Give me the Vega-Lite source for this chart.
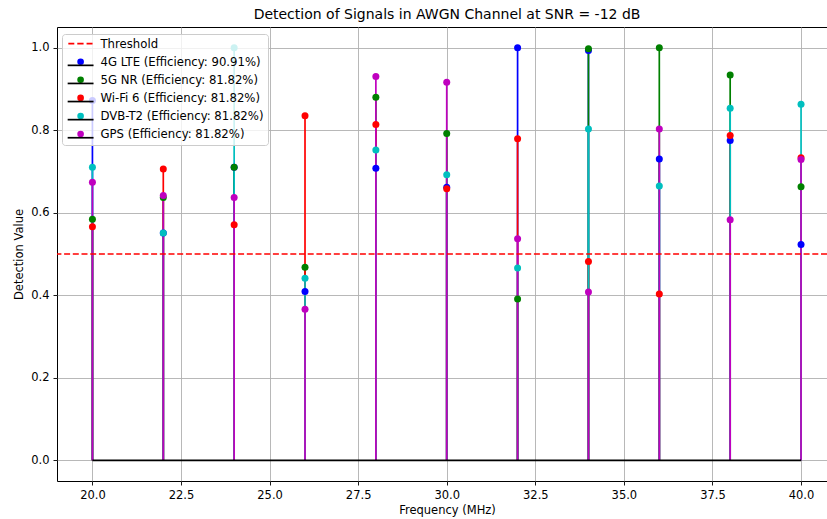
{
  "$schema": "https://vega.github.io/schema/vega-lite/v6.json",
  "width": 770,
  "height": 454,
  "autosize": {"type": "none"},
  "padding": {"left": 57, "top": 27, "right": 0, "bottom": 38},
  "background": "white",
  "title": {
    "text": "Detection of Signals in AWGN Channel at SNR = -12 dB",
    "font": "DejaVu Sans",
    "fontSize": 14,
    "fontWeight": "normal",
    "color": "black",
    "anchor": "middle",
    "frame": "group",
    "dx": 5,
    "dy": 15,
    "offset": 6,
    "baseline": "bottom"
  },
  "config": {
    "view": {"stroke": "black", "strokeWidth": 1},
    "axis": {
      "labelFont": "DejaVu Sans",
      "labelFontSize": 11.5,
      "labelColor": "black",
      "titleFont": "DejaVu Sans",
      "titleFontSize": 11.5,
      "titleFontWeight": "normal",
      "titleColor": "black",
      "tickColor": "black",
      "tickSize": 4,
      "tickWidth": 0.9,
      "domain": false,
      "gridColor": "#b0b0b0",
      "gridWidth": 0.9,
      "gridOpacity": 1,
      "labelPadding": 4
    },
    "legend": {
      "labelFont": "DejaVu Sans",
      "labelFontSize": 11.7,
      "labelColor": "black",
      "labelLimit": 400,
      "symbolSize": 44,
      "rowPadding": 5.1,
      "padding": 3.75,
      "symbolOffset": 9,
      "labelOffset": 14
    }
  },
  "datasets": {
    "signals": [
      {"freq": 20, "series": "4G LTE (Efficiency: 90.91%)", "value": 0.872},
      {"freq": 22, "series": "4G LTE (Efficiency: 90.91%)", "value": 0.551},
      {"freq": 24, "series": "4G LTE (Efficiency: 90.91%)", "value": 0.71},
      {"freq": 26, "series": "4G LTE (Efficiency: 90.91%)", "value": 0.409},
      {"freq": 28, "series": "4G LTE (Efficiency: 90.91%)", "value": 0.708},
      {"freq": 30, "series": "4G LTE (Efficiency: 90.91%)", "value": 0.662},
      {"freq": 32, "series": "4G LTE (Efficiency: 90.91%)", "value": 1.0},
      {"freq": 34, "series": "4G LTE (Efficiency: 90.91%)", "value": 0.993},
      {"freq": 36, "series": "4G LTE (Efficiency: 90.91%)", "value": 0.73},
      {"freq": 38, "series": "4G LTE (Efficiency: 90.91%)", "value": 0.775},
      {"freq": 40, "series": "4G LTE (Efficiency: 90.91%)", "value": 0.523},
      {"freq": 20, "series": "5G NR (Efficiency: 81.82%)", "value": 0.584},
      {"freq": 22, "series": "5G NR (Efficiency: 81.82%)", "value": 0.637},
      {"freq": 24, "series": "5G NR (Efficiency: 81.82%)", "value": 0.71},
      {"freq": 26, "series": "5G NR (Efficiency: 81.82%)", "value": 0.468},
      {"freq": 28, "series": "5G NR (Efficiency: 81.82%)", "value": 0.88},
      {"freq": 30, "series": "5G NR (Efficiency: 81.82%)", "value": 0.792},
      {"freq": 32, "series": "5G NR (Efficiency: 81.82%)", "value": 0.391},
      {"freq": 34, "series": "5G NR (Efficiency: 81.82%)", "value": 0.997},
      {"freq": 36, "series": "5G NR (Efficiency: 81.82%)", "value": 1.0},
      {"freq": 38, "series": "5G NR (Efficiency: 81.82%)", "value": 0.934},
      {"freq": 40, "series": "5G NR (Efficiency: 81.82%)", "value": 0.663},
      {"freq": 20, "series": "Wi-Fi 6 (Efficiency: 81.82%)", "value": 0.566},
      {"freq": 22, "series": "Wi-Fi 6 (Efficiency: 81.82%)", "value": 0.706},
      {"freq": 24, "series": "Wi-Fi 6 (Efficiency: 81.82%)", "value": 0.571},
      {"freq": 26, "series": "Wi-Fi 6 (Efficiency: 81.82%)", "value": 0.835},
      {"freq": 28, "series": "Wi-Fi 6 (Efficiency: 81.82%)", "value": 0.814},
      {"freq": 30, "series": "Wi-Fi 6 (Efficiency: 81.82%)", "value": 0.658},
      {"freq": 32, "series": "Wi-Fi 6 (Efficiency: 81.82%)", "value": 0.779},
      {"freq": 34, "series": "Wi-Fi 6 (Efficiency: 81.82%)", "value": 0.482},
      {"freq": 36, "series": "Wi-Fi 6 (Efficiency: 81.82%)", "value": 0.403},
      {"freq": 38, "series": "Wi-Fi 6 (Efficiency: 81.82%)", "value": 0.787},
      {"freq": 40, "series": "Wi-Fi 6 (Efficiency: 81.82%)", "value": 0.733},
      {"freq": 20, "series": "DVB-T2 (Efficiency: 81.82%)", "value": 0.71},
      {"freq": 22, "series": "DVB-T2 (Efficiency: 81.82%)", "value": 0.551},
      {"freq": 24, "series": "DVB-T2 (Efficiency: 81.82%)", "value": 1.0},
      {"freq": 26, "series": "DVB-T2 (Efficiency: 81.82%)", "value": 0.441},
      {"freq": 28, "series": "DVB-T2 (Efficiency: 81.82%)", "value": 0.752},
      {"freq": 30, "series": "DVB-T2 (Efficiency: 81.82%)", "value": 0.692},
      {"freq": 32, "series": "DVB-T2 (Efficiency: 81.82%)", "value": 0.466},
      {"freq": 34, "series": "DVB-T2 (Efficiency: 81.82%)", "value": 0.803},
      {"freq": 36, "series": "DVB-T2 (Efficiency: 81.82%)", "value": 0.665},
      {"freq": 38, "series": "DVB-T2 (Efficiency: 81.82%)", "value": 0.853},
      {"freq": 40, "series": "DVB-T2 (Efficiency: 81.82%)", "value": 0.863},
      {"freq": 20, "series": "GPS (Efficiency: 81.82%)", "value": 0.674},
      {"freq": 22, "series": "GPS (Efficiency: 81.82%)", "value": 0.642},
      {"freq": 24, "series": "GPS (Efficiency: 81.82%)", "value": 0.637},
      {"freq": 26, "series": "GPS (Efficiency: 81.82%)", "value": 0.366},
      {"freq": 28, "series": "GPS (Efficiency: 81.82%)", "value": 0.93},
      {"freq": 30, "series": "GPS (Efficiency: 81.82%)", "value": 0.916},
      {"freq": 32, "series": "GPS (Efficiency: 81.82%)", "value": 0.537},
      {"freq": 34, "series": "GPS (Efficiency: 81.82%)", "value": 0.408},
      {"freq": 36, "series": "GPS (Efficiency: 81.82%)", "value": 0.803},
      {"freq": 38, "series": "GPS (Efficiency: 81.82%)", "value": 0.583},
      {"freq": 40, "series": "GPS (Efficiency: 81.82%)", "value": 0.729}
    ]
  },
  "layer": [
    {
      "data": {"name": "signals"},
      "mark": {"type": "rule", "strokeWidth": 1.7},
      "encoding": {
        "x": {
          "field": "freq",
          "type": "quantitative",
          "scale": {"domain": [19, 40.733], "nice": false, "zero": false},
          "axis": {
            "values": [20, 22.5, 25, 27.5, 30, 32.5, 35, 37.5, 40],
            "format": ".1f",
            "title": "Frequency (MHz)",
            "titlePadding": 4,
            "titleX": 390,
            "grid": true
          }
        },
        "y": {
          "field": "value",
          "type": "quantitative",
          "scale": {"domain": [-0.05, 1.05], "nice": false, "zero": false},
          "axis": {
            "values": [0, 0.2, 0.4, 0.6, 0.8, 1.0],
            "format": ".1f",
            "title": "Detection Value",
            "titlePadding": 6,
            "grid": true
          }
        },
        "y2": {"datum": 0},
        "color": {
          "field": "series",
          "type": "nominal",
          "scale": {
            "domain": ["Threshold", "4G LTE (Efficiency: 90.91%)", "5G NR (Efficiency: 81.82%)", "Wi-Fi 6 (Efficiency: 81.82%)", "DVB-T2 (Efficiency: 81.82%)", "GPS (Efficiency: 81.82%)"],
            "range": ["#ff0000", "#0000ff", "#008000", "#ff0000", "#00bfbf", "#bf00bf"]
          },
          "legend": {
            "title": null,
            "orient": "none",
            "legendX": 5,
            "legendY": 7,
            "fillColor": "rgba(255,255,255,0.8)",
            "strokeColor": "#cccccc",
            "cornerRadius": 3,
            "symbolStrokeWidth": 0,
            "symbolOpacity": 1
          }
        }
      }
    },
    {
      "data": {"values": [{"threshold": 0.5}]},
      "mark": {"type": "rule", "color": "#ff0000", "strokeWidth": 1.7, "strokeDash": [6, 2.7]},
      "encoding": {
        "y": {"field": "threshold", "type": "quantitative"}
      }
    },
    {
      "data": {"name": "signals"},
      "mark": {"type": "point", "filled": true, "opacity": 1, "size": 49},
      "encoding": {
        "x": {"field": "freq", "type": "quantitative"},
        "y": {"field": "value", "type": "quantitative"},
        "color": {"field": "series", "type": "nominal"},
        "shape": {
          "field": "series",
          "type": "nominal",
          "scale": {
            "domain": ["Threshold", "4G LTE (Efficiency: 90.91%)", "5G NR (Efficiency: 81.82%)", "Wi-Fi 6 (Efficiency: 81.82%)", "DVB-T2 (Efficiency: 81.82%)", "GPS (Efficiency: 81.82%)"],
            "range": ["M-3.7,-0.25H-1.9V0.25H-3.7Z M-1,-0.25H0.9V0.25H-1Z M1.8,-0.25H3.6V0.25H1.8Z", "circle", "circle", "circle", "circle", "circle"]
          }
        }
      }
    },
    {
      "data": {"values": [{"start": 20, "end": 40, "base": 0, "bkey": "b1"}]},
      "mark": {"type": "rule", "strokeWidth": 1.7},
      "encoding": {
        "x": {"field": "start", "type": "quantitative"},
        "x2": {"field": "end"},
        "y": {"field": "base", "type": "quantitative"},
        "stroke": {
          "field": "bkey",
          "type": "nominal",
          "scale": {
            "domain": ["b0", "b1", "b2", "b3", "b4", "b5"],
            "range": ["rgba(0,0,0,0)", "#000000", "#000000", "#000000", "#000000", "#000000"]
          },
          "legend": {
            "title": null,
            "orient": "none",
            "legendX": 5,
            "legendY": 7,
            "labelExpr": "' '",
            "labelColor": "rgba(0,0,0,0)",
            "symbolType": "M-3.9,1.1H3.9",
            "symbolStrokeWidth": 1.7,
            "symbolFillColor": "rgba(0,0,0,0)"
          }
        }
      }
    }
  ]
}
